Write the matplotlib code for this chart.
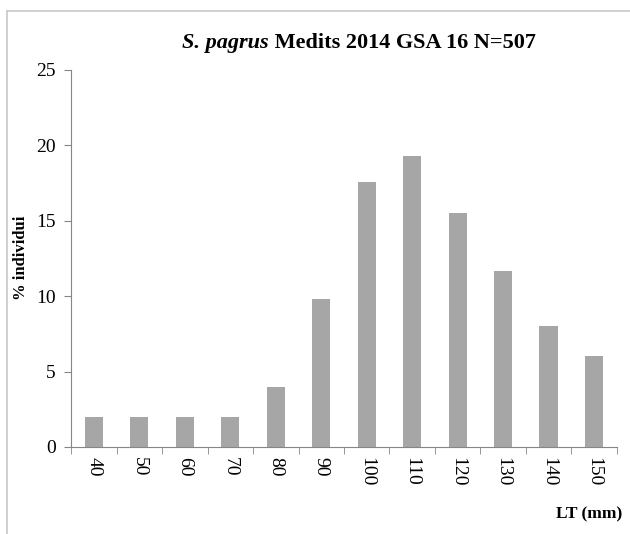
import matplotlib
matplotlib.use('Agg')
import matplotlib.pyplot as plt
import numpy as np
from matplotlib.lines import Line2D

# length classes (mm) and percentage of individuals
classes = ['40', '50', '60', '70', '80', '90', '100', '110', '120', '130', '140', '150']
percent = [2.0, 2.0, 2.0, 2.0, 4.0, 9.8, 17.6, 19.3, 15.5, 11.7, 8.0, 6.0]

plt.rcParams['font.family'] = ['Liberation Serif', 'DejaVu Serif']

fig = plt.figure(figsize=(6.3, 5.34), dpi=100)
ax = fig.add_axes([0.113, 0.163, 0.866, 0.706])

x = np.arange(len(classes))
ax.bar(x, percent, width=0.4, color='#a6a6a6', zorder=2)

ax.set_xlim(-0.5, len(classes) - 0.5)
ax.set_ylim(0, 25)
ax.set_yticks([0, 5, 10, 15, 20, 25])
ax.set_xticks(x)
ax.set_xticklabels(classes, rotation=270, fontsize=14)
ax.set_xticks(np.arange(-0.5, len(classes)), minor=True)
ax.tick_params(axis='x', which='major', length=0, pad=7)
ax.tick_params(axis='x', which='minor', length=5, color='#868686')
ax.tick_params(axis='y', length=5, color='#868686', labelsize=14, pad=6)

for side in ['top', 'right']:
    ax.spines[side].set_visible(False)
for side in ['left', 'bottom']:
    ax.spines[side].set_color('#868686')

fig.text(21 / 630, 0.517, '% individui', fontsize=12, fontweight='bold',
         rotation=90, ha='center', va='center')

fig.text(0.988, 0.030, 'LT (mm)', fontsize=12.5, fontweight='bold', ha='right', va='baseline')

# title: italic species name followed by bold text
t1 = fig.text(0.289, 0.911, 'S. pagrus', fontsize=16, fontweight='bold', style='italic',
              ha='left', va='baseline')
fig.canvas.draw()
ax.annotate(' Medits 2014 GSA 16 N=507', xy=(1, 0), xycoords=t1, fontsize=16,
            fontweight='bold', ha='left', va='bottom', annotation_clip=False)

# chart area border (partly cut off)
fig.add_artist(Line2D([0.011, 0.011], [0, 0.979], transform=fig.transFigure, color='#c8c8c8', lw=1.2))
fig.add_artist(Line2D([0.011, 1], [0.979, 0.979], transform=fig.transFigure, color='#c8c8c8', lw=1.2))

fig.savefig('out.png', dpi=100)
